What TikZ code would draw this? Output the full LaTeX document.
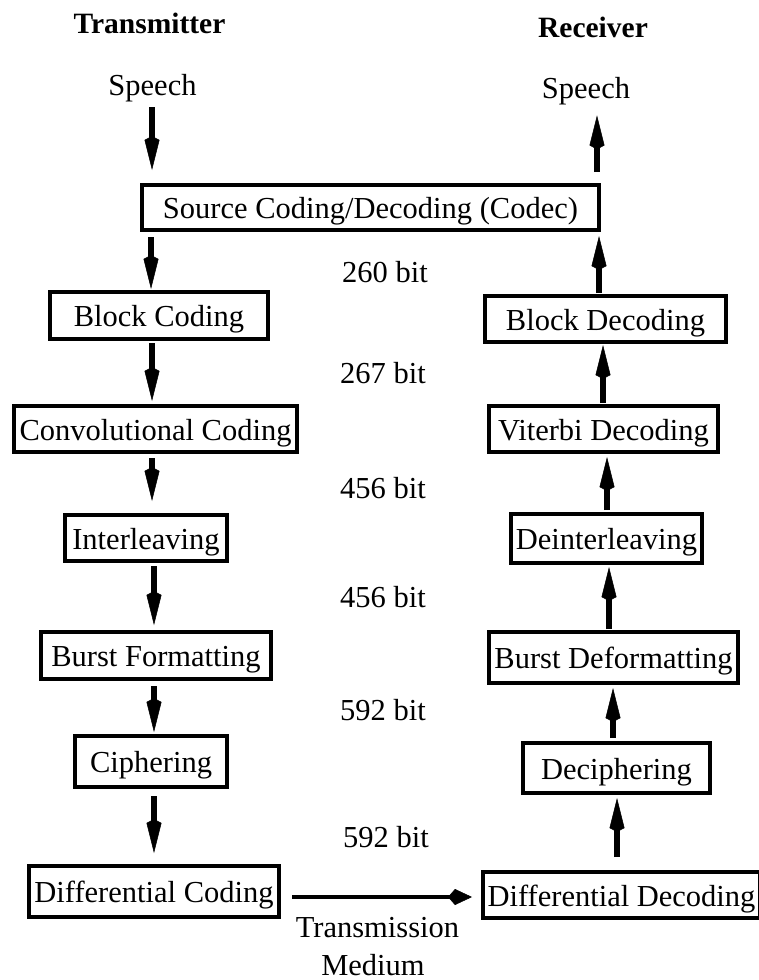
\documentclass[tikz,border=0pt]{standalone}
\usepackage{fontspec}
\setmainfont{Liberation Serif}
\usetikzlibrary{arrows.meta}
\begin{document}
\begin{tikzpicture}[x=1pt,y=-1pt,
  every node/.style={font=\fontsize{30.5}{36}\selectfont, inner sep=2pt},
  blockbox/.style={draw, line width=4pt, text height=22pt, text depth=0pt, inner sep=0pt},
  plaintext/.style={anchor=base},
  titletext/.style={anchor=base, font=\fontsize{29.5}{35}\selectfont\bfseries},
  flow/.style={line width=5.5pt, -{Kite[length=34pt,width=15pt,inset=4pt,line width=0.5pt]}},
  channel/.style={line width=4pt, -{Kite[length=24pt,width=16pt,inset=7pt,line width=0.5pt]}},
]
\useasboundingbox (0,0) rectangle (758,980);

% column headings and speech terminals
\node[titletext] (ttx) at (149.5,33) {Transmitter};
\node[titletext] (trx) at (593,37) {Receiver};
\node[plaintext] (sp1) at (152.5,95) {Speech};
\node[plaintext] (sp2) at (586,98) {Speech};

% shared codec
\node[blockbox, minimum width=457pt, minimum height=45pt] (codec) at (370.5,207.5) {Source Coding/Decoding (Codec)};

% transmitter chain
\node[blockbox, minimum width=218pt, minimum height=47pt] (blk)   at (159,315.5)   {Block Coding};
\node[blockbox, minimum width=283pt, minimum height=46pt] (conv)  at (155.5,429)   {Convolutional Coding};
\node[blockbox, minimum width=162pt, minimum height=46pt] (intl)  at (146,538)     {Interleaving};
\node[blockbox, minimum width=230pt, minimum height=47pt] (burst) at (156,655.5)   {Burst Formatting};
\node[blockbox, minimum width=152pt, minimum height=51pt] (ciph)  at (151,761.5)   {Ciphering};
\node[blockbox, minimum width=250pt, minimum height=51pt] (diff)  at (154,891.5)   {Differential Coding};

% receiver chain
\node[blockbox, minimum width=241pt, minimum height=46pt] (bdec)   at (605.5,319)   {Block Decoding};
\node[blockbox, minimum width=229pt, minimum height=46pt] (vit)    at (603.5,429)   {Viterbi Decoding};
\node[blockbox, minimum width=191pt, minimum height=49pt] (deint)  at (606.5,538.5) {Deinterleaving};
\node[blockbox, minimum width=249pt, minimum height=51pt] (bdef)   at (613.5,657.5) {Burst Deformatting};
\node[blockbox, minimum width=187pt, minimum height=50pt] (deciph) at (616.5,768)   {Deciphering};
\node[blockbox, minimum width=277pt, minimum height=46pt] (ddec)   at (621.5,895)   {Differential Decoding};

% frame sizes between stages
\node[plaintext] (b1) at (385,282) {260 bit};
\node[plaintext] (b2) at (383,383) {267 bit};
\node[plaintext] (b3) at (383,498) {456 bit};
\node[plaintext] (b4) at (383,607) {456 bit};
\node[plaintext] (b5) at (383,720) {592 bit};
\node[plaintext] (b6) at (386,847) {592 bit};
\node[plaintext] (tm1) at (377.5,937) {Transmission};
\node[plaintext] (tm2) at (373,975) {Medium};

% transmitter flow (downwards)
\draw[flow, shorten <=3.6pt, shorten >=13pt] ([xshift=-0.5pt]sp1.south) -- ([xshift=-218.5pt]codec.north);
\draw[flow, shorten <=5pt, shorten >=1pt] ([xshift=-219.5pt]codec.south) -- ([xshift=-8pt]blk.north);
\draw[flow, shorten <=2pt, shorten >=3pt] ([xshift=-7pt]blk.south) -- ([xshift=-3.5pt]conv.north);
\draw[flow, shorten <=4pt, shorten >=12pt] ([xshift=-3.5pt]conv.south) -- ([xshift=6pt]intl.north);
\draw[flow, shorten <=3pt, shorten >=5pt] ([xshift=8pt]intl.south) -- ([xshift=-2pt]burst.north);
\draw[flow, shorten <=5pt, shorten >=2pt] ([xshift=-2pt]burst.south) -- ([xshift=3pt]ciph.north);
\draw[flow, shorten <=7pt, shorten >=11pt] ([xshift=3pt]ciph.south) -- (diff.north);

% channel
\draw[channel, shorten <=11pt, shorten >=9pt] ([yshift=-5.5pt]diff.east) -- ([yshift=-2pt]ddec.west);

% receiver flow (upwards)
\draw[flow, shorten <=13pt, shorten >=3pt] ([xshift=-4.5pt]ddec.north) -- ([xshift=0.5pt]deciph.south);
\draw[flow, shorten <=3pt, shorten >=3pt] ([xshift=-3.5pt]deciph.north) -- ([xshift=-0.5pt]bdef.south);
\draw[flow, shorten <=1pt, shorten >=2pt] ([xshift=-4.5pt]bdef.north) -- ([xshift=2.5pt]deint.south);
\draw[flow, shorten <=2pt, shorten >=3pt] ([xshift=0.5pt]deint.north) -- ([xshift=3.5pt]vit.south);
\draw[flow, shorten <=1pt, shorten >=1pt] ([xshift=-0.5pt]vit.north) -- ([xshift=-2.5pt]bdec.south);
\draw[flow, shorten <=1pt, shorten >=4pt] ([xshift=-6.5pt]bdec.north) -- ([xshift=228.5pt]codec.south);
\draw[flow, shorten <=11pt, shorten >=8.7pt] ([xshift=226.5pt]codec.north) -- ([xshift=11pt]sp2.south);
\end{tikzpicture}
\end{document}
